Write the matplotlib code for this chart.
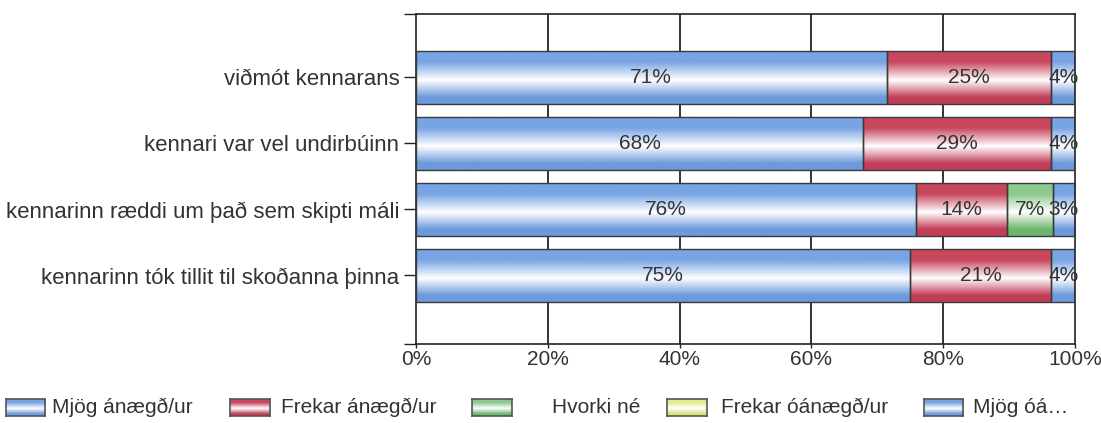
import numpy as np
import matplotlib.pyplot as plt
from matplotlib.colors import LinearSegmentedColormap
from matplotlib.patches import Rectangle

plt.rcParams['font.family'] = ['Liberation Sans', 'DejaVu Sans']

categories = ['viðmót kennarans',
              'kennari var vel undirbúinn',
              'kennarinn ræddi um það sem skipti máli',
              'kennarinn tók tillit til skoðanna þinna']
series = ['Mjög ánægð/ur', 'Frekar ánægð/ur', 'Hvorki né', 'Frekar óánægð/ur', 'Mjög óá…']
values = [
    [71.4, 25.0, 0.0, 0.0, 3.6],
    [67.9, 28.5, 0.0, 0.0, 3.6],
    [75.9, 13.8, 6.9, 0.0, 3.4],
    [75.0, 21.4, 0.0, 0.0, 3.6],
]
labels = [
    ['71%', '25%', '', '', '4%'],
    ['68%', '29%', '', '', '4%'],
    ['76%', '14%', '7%', '', '3%'],
    ['75%', '21%', '', '', '4%'],
]
xticks = [0, 20, 40, 60, 80, 100]

# base colours of the gradients (top, bottom)
base = [('#78a4e4', '#6c9adc'), ('#c9475e', '#c23e58'), ('#8cc98c', '#6db56d'),
        ('#e4ec8a', '#d8e274'), ('#78a4e4', '#6c9adc')]


def make_cmap(top, bot):
    return LinearSegmentedColormap.from_list(
        'g', [(0.0, top), (0.2, top), (0.55, '#ffffff'), (0.88, bot), (1.0, bot)])


grad = np.linspace(0, 1, 64).reshape(-1, 1)

fig = plt.figure(figsize=(11.01, 4.23), dpi=100)
ax = fig.add_axes([0.3778, 0.1868, 0.5986, 0.7801])

h = 0.8
ypos = np.arange(1, len(categories) + 1)
for i, row in enumerate(values):
    left = 0
    for j, v in enumerate(row):
        if v > 0:
            rect = Rectangle((left, ypos[i] - h / 2), v, h, facecolor='none',
                             edgecolor='#3a3a3a', lw=1.0, zorder=3)
            ax.add_patch(rect)
            im = ax.imshow(grad, extent=[left, left + v, ypos[i] + h / 2, ypos[i] - h / 2],
                           aspect='auto', cmap=make_cmap(*base[j]), zorder=2,
                           interpolation='bilinear')
            im.set_clip_path(rect)
            if labels[i][j]:
                ax.text(left + v / 2, ypos[i], labels[i][j], ha='center', va='center',
                        fontsize=15, color='#333333', zorder=4)
        left += v

ax.set_xlim(0, 100)
ax.set_ylim(5.04, 0.04)
ax.set_xticks(xticks)
ax.set_xticklabels([f'{t}%' for t in xticks], fontsize=15, color='#333333')
ax.set_yticks([0.04] + list(ypos) + [5.04])
ax.set_yticklabels([''] + categories + [''], fontsize=16, color='#333333')
ax.tick_params(axis='y', length=9, width=1, color='#222222', pad=3)
ax.tick_params(axis='x', length=3, width=1, color='#222222', pad=1)
for x in xticks[1:-1]:
    ax.axvline(x, color='#111111', lw=1.2, zorder=1)
for s in ax.spines.values():
    s.set_color('#222222')
    s.set_linewidth(1.2)

# legend along the bottom
legend_x = [0.005, 0.209, 0.429, 0.606, 0.839]
text_x = [0.047, 0.255, 0.501, 0.655, 0.884]
for k, name in enumerate(series):
    lax = fig.add_axes([legend_x[k], 0.0165, 0.036, 0.04])
    lax.imshow(grad, extent=[0, 1, 1, 0], aspect='auto', cmap=make_cmap(*base[k]),
               interpolation='bilinear')
    lax.set_xticks([])
    lax.set_yticks([])
    for s in lax.spines.values():
        s.set_color('#555555')
        s.set_linewidth(1.2)
    fig.text(text_x[k], 0.036, name, fontsize=15, color='#333333', va='center')

plt.savefig('out.png', dpi=100)
